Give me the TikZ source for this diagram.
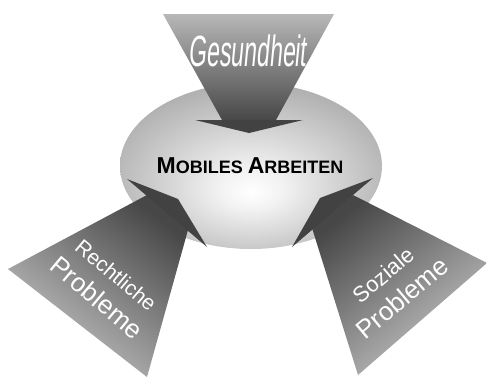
\documentclass[tikz,border=0pt]{standalone}
\usepackage{fontspec}
\setmainfont{Liberation Sans}
\usetikzlibrary{shapes.geometric}

% light spot a little below the middle of the disc
\pgfdeclareradialshading{discshade}{\pgfpoint{0bp}{-8bp}}{%
  color(0bp)=(white); color(6bp)=(white!95!black);
  color(30bp)=(black!33); color(50bp)=(black!50)}

\newcommand{\bigini}[1]{{\fontsize{23}{23}\selectfont #1}}
\newcommand{\smallline}[2]{{\fontsize{#1}{#1}\selectfont #2}}

\begin{document}
\begin{tikzpicture}[x=1pt, y=-1pt,
  head/.style={fill=black!74},
  sidetext/.style={text=white, inner sep=0pt, align=center,
                   font=\fontsize{26}{31}\selectfont}]

% white canvas
\useasboundingbox[fill=white] (0,0) rectangle (487,378);

% central disc
\node[ellipse, minimum width=262pt, minimum height=166pt, inner sep=0pt,
      shading=discshade] (disc) at (251,166) {};

% =========== TOP ARROW ===========
\shade[top color=black!28, bottom color=black!72]
  (163,14) -- (334,14) -- (276,120) -- (222,120) -- cycle;
\fill[head] (195,120) -- (303,120) -- (249,133) -- cycle;
\node[sidetext, font=\fontsize{23}{23}\selectfont, yscale=1.9, xslant=0.18]
  (health) at (249,51) {Gesundheit};

% =========== LEFT ARROW ===========
\shade[top color=black!72, bottom color=black!22, shading angle=-38]
  (8,269) -- (147,195) -- (188,230) -- (147,377) -- cycle;
\fill[head] (127,179) -- (178,199) -- (207,247) -- cycle;
\node[sidetext, rotate=-40] (legal) at (106,287)
  {\smallline{21}{Rechtliche}\\Probleme};

% =========== RIGHT ARROW ===========
\shade[top color=black!72, bottom color=black!22, shading angle=38]
  (487,263) -- (353,195) -- (312,228) -- (358,375) -- cycle;
\fill[head] (373,178) -- (320,198) -- (292,247) -- cycle;
\node[sidetext, rotate=40] (social) at (393,287)
  {\smallline{22}{Soziale}\\Probleme};

% title on the disc
\node[font=\bfseries\fontsize{18}{18}\selectfont] (title) at (250,166)
  {\bigini{M}OBILES \bigini{A}RBEITEN};

\end{tikzpicture}
\end{document}
